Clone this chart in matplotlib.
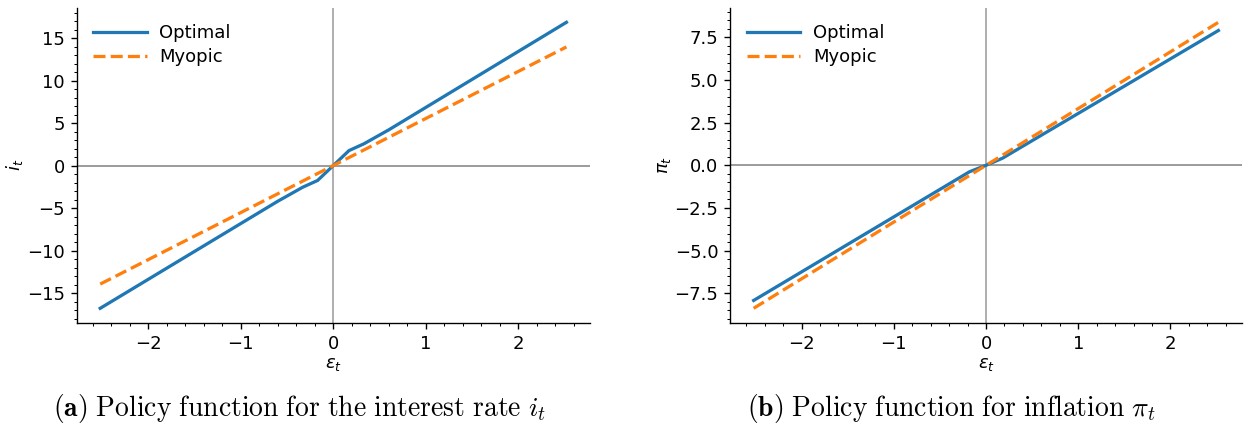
import matplotlib
matplotlib.use("Agg")
import matplotlib.pyplot as plt
from matplotlib.ticker import AutoMinorLocator

# Shock grid points and policy responses
eps_i = [-2.52, -0.6, -0.33, -0.17, 0.0, 0.17, 0.33, 0.6, 2.52]
opt_i = [-16.8, -4.2, -2.55, -1.76, 0.0, 1.76, 2.55, 4.2, 16.85]
eps_my = [-2.52, 0.0, 2.52]
myo_i = [-13.95, 0.0, 13.95]

eps_pi = [-2.52, -0.18, 0.0, 0.18, 2.52]
opt_pi = [-7.92, -0.38, 0.0, 0.42, 7.9]
myo_pi = [-8.38, 0.0, 8.38]

ylabels = [r"$i_t$", r"$\pi_t$"]
captions = [r"$\mathbf{(a)}\ \mathrm{Policy\ function\ for\ the\ interest\ rate}\ i_t$",
            r"$\mathbf{(b)}\ \mathrm{Policy\ function\ for\ inflation}\ \pi_t$"]

DPI = 123
plt.rcParams["font.size"] = 10.5
fig = plt.figure(figsize=(1246 / DPI, 426 / DPI), dpi=DPI)

ax_l = fig.add_axes([0.0617, 0.2427, 0.4116, 0.7385])
ax_r = fig.add_axes([0.5862, 0.2427, 0.4103, 0.7385])

series = [(ax_l, eps_i, opt_i, myo_i), (ax_r, eps_pi, opt_pi, myo_pi)]
for k, (ax, ex, opt, myo) in enumerate(series):
    ax.axhline(0, color="gray", lw=0.9, zorder=1)
    ax.axvline(0, color="gray", lw=0.9, alpha=0.8, zorder=1)
    ax.plot(ex, opt, color="tab:blue", lw=1.9, label="Optimal", zorder=3)
    ax.plot(eps_my, myo, color="tab:orange", lw=1.9, ls="--", label="Myopic", zorder=3)
    ax.spines["top"].set_visible(False)
    ax.spines["right"].set_visible(False)
    ax.xaxis.set_minor_locator(AutoMinorLocator())
    ax.yaxis.set_minor_locator(AutoMinorLocator())
    ax.set_xlabel(r"$\varepsilon_t$", labelpad=1.5)
    ax.set_ylabel(ylabels[k], labelpad=1)
    ax.legend(loc="upper left", frameon=False, handlelength=3.0,
              handletextpad=0.7, labelspacing=0.32)

ax_l.set_yticks([-15, -10, -5, 0, 5, 10, 15])
ax_r.set_yticks([-7.5, -5.0, -2.5, 0.0, 2.5, 5.0, 7.5])

fig.text(300 / 1246, 1 - 408 / 426, captions[0], ha="center", va="center",
         fontsize=16.2, math_fontfamily="cm")
fig.text(951 / 1246, 1 - 408 / 426, captions[1], ha="center", va="center",
         fontsize=16.2, math_fontfamily="cm")

fig.savefig("out.png", dpi=DPI)
